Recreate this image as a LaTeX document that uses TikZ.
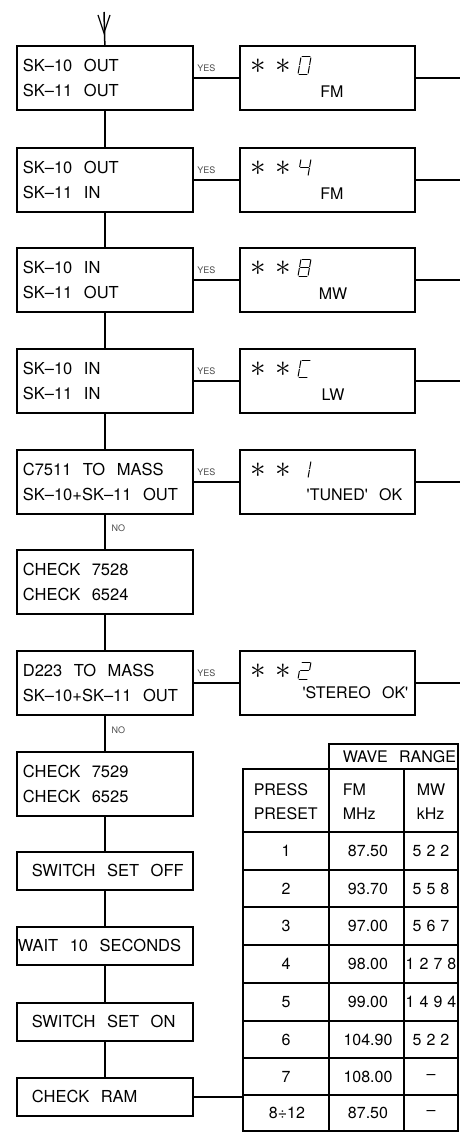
\documentclass[tikz,border=0pt]{standalone}
\usepackage{fontspec}
\usepackage{graphicx}
\setmainfont{TeX Gyre Heros}
\usetikzlibrary{calc}
\newcommand\gp{\hspace{0.7em}}
\newcommand\lsp{\kern5pt}
\def\segA{4/0/12/0}
\def\segB{12.85/0.85/11.65/7.65}
\def\segC{11.35/9.35/10.15/16.15}
\def\segD{1/17/9/17}
\def\segE{0.15/16.15/1.35/9.35}
\def\segF{1.65/7.65/2.85/0.85}
\def\segG{2.5/8.5/10.5/8.5}
\edef\dZero{\segA,\segB,\segC,\segD,\segE,\segF}
\edef\dFour{\segF,\segG,\segB,\segC}
\edef\dEight{\segA,\segB,\segC,\segD,\segE,\segF,\segG}
\edef\dCee{\segA,\segF,\segE,\segD}
\edef\dOne{\segB,\segC}
\edef\dTwo{\segA,\segB,\segG,\segE,\segD}
\newcommand\sevdigit[2]{\begin{scope}[shift={#1}]\foreach \xa/\ya/\xb/\yb in #2 {\draw[seg] (\xa,\ya) -- (\xb,\yb);}\end{scope}}
\begin{document}
\begin{tikzpicture}[x=1pt,y=-1pt,line width=1.5pt,
 flow/.style={draw,rectangle,line width=1.7pt,anchor=north west,minimum width=176pt,minimum height=64pt,text width=164pt,inner xsep=6pt,inner ysep=0pt,align=left,font=\fontsize{16.5}{25}\selectfont},
 small/.style={flow,minimum height=38pt,text width=146pt,inner xsep=15pt},
 disp/.style={draw,rectangle,line width=1.7pt,anchor=north west,minimum width=175pt,minimum height=64pt,inner sep=0pt},
 dtxt/.style={font=\fontsize{16}{18}\selectfont,inner sep=0pt},
 star/.style={font=\fontsize{24}{24}\selectfont,inner sep=0pt},
 seg/.style={line width=1pt,line cap=round},
 yes/.style={font=\fontsize{9}{10}\selectfont,text=black!70,anchor=south west,inner sep=0pt,xshift=3pt,yshift=5pt},
 no/.style={font=\fontsize{9}{10}\selectfont,text=black!70,anchor=west,inner sep=0pt,xshift=6pt},
 tt/.style={font=\fontsize{16}{24}\selectfont,inner sep=0pt},
 grid/.style={line width=1.7pt}]
\useasboundingbox (0,0) rectangle (459,1132);
\coordinate (edge) at (460,0);
\coordinate (start) at (104,12);
% left flow boxes
\node[flow] (b1) at (16,45) {SK--10\gp OUT\\SK--11\gp OUT};
\node[flow] (b2) at (16,147) {SK--10\gp OUT\\SK--11\gp IN};
\node[flow] (b3) at (16,247) {SK--10\gp IN\\SK--11\gp OUT};
\node[flow] (b4) at (16,348) {SK--10\gp IN\\SK--11\gp IN};
\node[flow] (b5) at (16,449) {C7511\gp TO\gp MASS\\SK--10+SK--11\gp OUT};
\node[flow] (b6) at (16,549) {CHECK\gp 7528\\CHECK\gp 6524};
\node[flow] (b7) at (16,650) {D223\gp TO\gp MASS\\SK--10+SK--11\gp OUT};
\node[flow] (b8) at (16,751) {CHECK\gp 7529\\CHECK\gp 6525};
\node[small] (s1) at (16,851) {\mbox{SWITCH\gp SET\gp OFF}};
\node[small,text width=174pt,inner xsep=1pt] (s2) at (16,926) {\mbox{WAIT\gp 10\gp SECONDS}};
\node[small] (s3) at (16,1002) {\mbox{SWITCH\gp SET\gp ON}};
\node[small] (s4) at (16,1077) {\mbox{CHECK\gp RAM}};
% top arrow
\draw (start) -- (b1.north);
\draw[line width=1.2pt] ($(start)+(-6,3)$) -- ($(start)+(0,21)$) -- ($(start)+(6,3)$);
% vertical connectors
\draw (b1.south) -- (b2.north);
\draw (b2.south) -- (b3.north);
\draw (b3.south) -- (b4.north);
\draw (b4.south) -- (b5.north);
\draw (b5.south) -- (b6.north) node[pos=0.4,no] {NO};
\draw (b6.south) -- (b7.north);
\draw (b7.south) -- (b8.north) node[pos=0.4,no] {NO};
\draw (b8.south) -- (s1.north);
\draw (s1.south) -- (s2.north);
\draw (s2.south) -- (s3.north);
\draw (s3.south) -- (s4.north);
% display boxes
\node[disp] (d1) at (239,45) {};
\node[disp] (d2) at (239,147) {};
\node[disp] (d3) at (239,247) {};
\node[disp] (d4) at (239,348) {};
\node[disp] (d5) at (239,449) {};
\node[disp] (d7) at (239,650) {};
\foreach \d in {d1,d2,d3,d4,d5,d7}{
  \node[star] (\d s1) at ($(\d.north west)+(19,21)$) {\scalebox{1.25}{$\ast$}};
  \node[star] (\d s2) at ($(\d.north west)+(44,21)$) {\scalebox{1.25}{$\ast$}};
  \draw (\d.east) -- (\d.east -| edge);
}
\sevdigit{($(d1.north west)+(59,12)$)}{\dZero}
\sevdigit{($(d2.north west)+(59,12)$)}{\dFour}
\sevdigit{($(d3.north west)+(59,12)$)}{\dEight}
\sevdigit{($(d4.north west)+(59,12)$)}{\dCee}
\sevdigit{($(d5.north west)+(59,12)$)}{\dOne}
\sevdigit{($(d7.north west)+(59,12)$)}{\dTwo}
\node[dtxt] (t1) at ($(d1.north west)+(93,47)$) {FM};
\node[dtxt] (t2) at ($(d2.north west)+(93,47)$) {FM};
\node[dtxt] (t3) at ($(d3.north west)+(94,47)$) {MW};
\node[dtxt] (t4) at ($(d4.north west)+(94,47)$) {LW};
\node[dtxt,anchor=east] (t5) at ($(d5.north west)+(164,46)$) {\textquotesingle TUNED\textquotesingle\gp OK};
\node[dtxt,anchor=east] (t7) at ($(d7.north west)+(170,43)$) {\textquotesingle STEREO\gp OK\textquotesingle};
% YES connectors
\foreach \i in {1,2,3,4,5,7}{
  \draw (b\i.east) -- (b\i.east -| d\i.west) node[pos=0,yes] {YES};
}
% table
\coordinate (tl) at (243,1095);
\draw (s4.east) -- (s4.east -| tl);
\draw[grid] (329,769) -- (329,744) -- (458,744) -- (458,1131);
\draw[grid] (243,769) rectangle (458,1131);
\draw[grid] (329,769) -- (329,1131);
\draw[grid] (404,769) -- (404,1131);
\foreach \yy in {832,870,907,945,983,1021,1058,1095}{
  \draw[grid] (243,\yy) -- (458,\yy);
}
\node[tt,anchor=west] (wr) at (342,757) {WAVE\gp RANGE};
\node[tt,anchor=west] (h1) at (253,790) {PRESS};
\node[tt,anchor=west] (h2) at (253,814) {PRESET};
\node[tt,anchor=west] (h3) at (342,790) {FM};
\node[tt,anchor=west] (h4) at (342,814) {MHz};
\node[tt,anchor=west] (h5) at (416,790) {MW};
\node[tt,anchor=west] (h6) at (416,814) {kHz};
\foreach \r/\yy/\fm/\mw in {1/851/87.50/5\lsp2\lsp2, 2/888.5/93.70/5\lsp5\lsp8, 3/926/97.00/5\lsp6\lsp7, 4/964/98.00/1\lsp2\lsp7\lsp8, 5/1002/99.00/1\lsp4\lsp9\lsp4, 6/1039.5/104.90/5\lsp2\lsp2, 7/1076.5/108.00/--}{
  \node[tt] (p\r) at (286,\yy) {\r};
  \node[tt] (f\r) at (368,\yy) {\fm};
  \node[tt] (m\r) at (431,\yy) {\mw};
}
\node[tt] (p8) at (287,1113) {8÷12};
\node[tt] (f8) at (368,1113) {87.50};
\node[tt] (m8) at (431,1113) {--};
\end{tikzpicture}
\end{document}
